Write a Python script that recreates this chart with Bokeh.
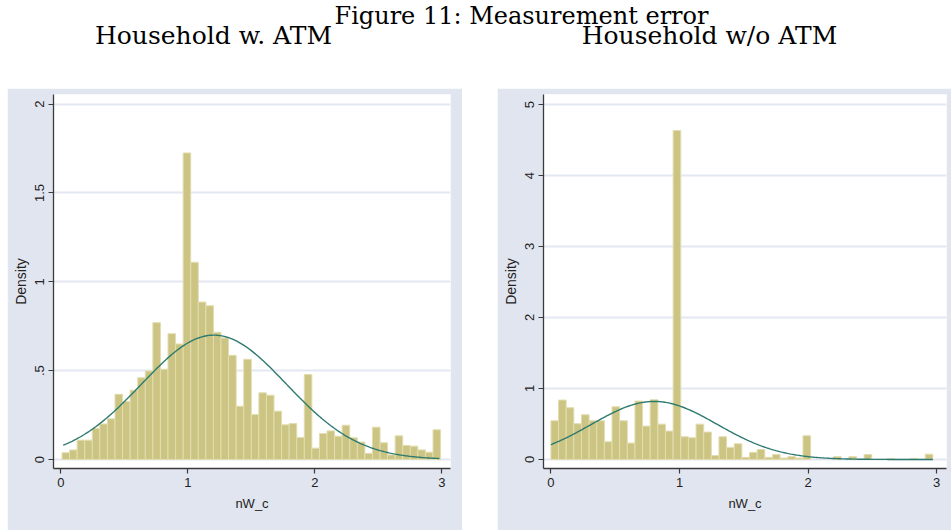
import numpy as np
from bokeh.plotting import figure
from bokeh.layouts import column, row, Spacer
from bokeh.models import Range1d, FixedTicker, ColumnDataSource
from bokeh.embed import file_html
from bokeh.resources import INLINE
from bokeh.core.properties import value

# ---- data -------------------------------------------------------------
# Households with an ATM card: histogram of nW_c (50 bins) + normal fit
atm_bin_start = 0.01
atm_bin_width = 0.0596
atm_density = [
    0.038, 0.054, 0.109, 0.109, 0.174, 0.200, 0.229, 0.367, 0.326, 0.390,
    0.460, 0.498, 0.770, 0.508, 0.708, 0.650, 1.725, 1.110, 0.886, 0.865,
    0.716, 0.684, 0.586, 0.300, 0.564, 0.253, 0.375, 0.362, 0.272, 0.195,
    0.202, 0.124, 0.478, 0.064, 0.146, 0.161, 0.131, 0.193, 0.122, 0.098,
    0.034, 0.182, 0.094, 0.026, 0.133, 0.079, 0.075, 0.054, 0.041, 0.167,
]
atm_mean, atm_sd = 1.206, 0.570
atm_min, atm_max = 0.02, 2.98

# Households without an ATM card
noatm_bin_start = 0.0
noatm_bin_width = 0.0594
noatm_density = [
    0.545, 0.837, 0.729, 0.503, 0.630, 0.545, 0.545, 0.250, 0.743, 0.545,
    0.231, 0.823, 0.470, 0.841, 0.498, 0.400, 4.633, 0.320, 0.306, 0.498,
    0.386, 0.056, 0.320, 0.170, 0.221, 0.030, 0.100, 0.140, 0.030, 0.070,
    0.020, 0.040, 0.020, 0.334, 0.000, 0.000, 0.000, 0.040, 0.000, 0.040,
    0.000, 0.070, 0.000, 0.000, 0.015, 0.000, 0.000, 0.015, 0.000, 0.075,
]
noatm_mean, noatm_sd = 0.804, 0.488
noatm_min, noatm_max = 0.0, 2.97

x_ticks = [0, 1, 2, 3]
atm_y_ticks = [0, 0.5, 1, 1.5, 2]
atm_y_labels = ["0", ".5", "1", "1.5", "2"]
noatm_y_ticks = [0, 1, 2, 3, 4, 5]
noatm_y_labels = ["0", "1", "2", "3", "4", "5"]

main_title = "Figure 11: Measurement error"
left_title = "Household w. ATM"
right_title = "Household w/o ATM"

# ---- style ------------------------------------------------------------
PANEL_BG = "#e1e5ef"
GRID = "#e3e7f1"
BAR_FILL = "#ccc482"
BAR_EDGE = "#e2ddb0"
CURVE = "#2d7a6f"
AXIS = "#3a3a3a"
SANS = "Liberation Sans"
SERIF = "DejaVu Serif"


def panel(width, start, bw, dens, mean, sd, lo, hi, yt, ylab, xr, yr,
          mb_left, mb_right, mb_top):
    p = figure(width=width, height=442, x_range=Range1d(*xr),
               y_range=Range1d(*yr), output_backend="svg",
               toolbar_location=None, min_border_left=mb_left,
               min_border_right=mb_right, min_border_top=mb_top,
               min_border_bottom=62)
    p.background_fill_color = "white"
    p.border_fill_color = PANEL_BG
    p.outline_line_color = None
    p.xgrid.visible = False
    p.ygrid.ticker = FixedTicker(ticks=yt)
    p.ygrid.grid_line_color = GRID
    p.ygrid.grid_line_width = 2

    dens = np.asarray(dens)
    left = start + bw * np.arange(len(dens))
    keep = dens > 0
    src = ColumnDataSource(dict(left=left[keep], right=left[keep] + bw,
                                top=dens[keep]))
    p.quad(left="left", right="right", bottom=0, top="top", source=src,
           fill_color=BAR_FILL, line_color=BAR_EDGE, line_width=1)

    xs = np.linspace(lo, hi, 300)
    ys = np.exp(-0.5 * ((xs - mean) / sd) ** 2) / (sd * np.sqrt(2 * np.pi))
    p.line(xs, ys, line_color=CURVE, line_width=1.4)

    p.xaxis.ticker = FixedTicker(ticks=x_ticks)
    p.yaxis.ticker = FixedTicker(ticks=yt)
    p.yaxis.major_label_overrides = {t: l for t, l in zip(yt, ylab)}
    p.yaxis.major_label_orientation = "vertical"
    p.xaxis.axis_label = "nW_c"
    p.yaxis.axis_label = "Density"
    for ax in (p.xaxis[0], p.yaxis[0]):
        ax.axis_line_color = AXIS
        ax.axis_line_width = 1.3
        ax.major_tick_line_color = AXIS
        ax.major_tick_line_width = 1.2
        ax.major_tick_out = 5
        ax.major_tick_in = 0
        ax.minor_tick_line_color = None
        ax.major_label_text_font = SANS
        ax.major_label_text_font_size = "13px"
        ax.major_label_text_color = "#222222"
        ax.major_label_standoff = 4
        ax.axis_label_text_font = SANS
        ax.axis_label_text_font_size = "13px"
        ax.axis_label_text_font_style = "normal"
        ax.axis_label_text_color = "#222222"
    p.yaxis.axis_label_text_font_size = "14px"
    p.xaxis.axis_label_standoff = 6
    p.yaxis.axis_label_standoff = 4
    return p


left = panel(455, atm_bin_start, atm_bin_width, atm_density, atm_mean,
             atm_sd, atm_min, atm_max, atm_y_ticks, atm_y_labels,
             (-0.057, 3.068), (-0.0506, 2.054), 46, 12, 5)
right = panel(454, noatm_bin_start, noatm_bin_width, noatm_density,
              noatm_mean, noatm_sd, noatm_min, noatm_max, noatm_y_ticks,
              noatm_y_labels, (-0.0576, 3.076), (-0.127, 5.141), 46, 5, 6)

# ---- heading strip ----------------------------------------------------
head = figure(width=951, height=88, x_range=Range1d(0, 951),
              y_range=Range1d(88, 0), output_backend="svg",
              toolbar_location=None, min_border=0)
head.axis.visible = False
head.grid.visible = False
head.outline_line_color = None
head.text(x=[521], y=[15], text=[main_title], text_font=value(SERIF),
          text_font_size="24px", text_align="center",
          text_baseline="middle", text_color="black")
head.text(x=[213, 709], y=[35, 35], text=[left_title, right_title],
          text_font=value(SERIF), text_font_size="25px",
          text_align="center", text_baseline="middle", text_color="black")

layout = column(head, row(Spacer(width=7), left, Spacer(width=35), right))
open("out.html", "w").write(file_html(layout, INLINE))
